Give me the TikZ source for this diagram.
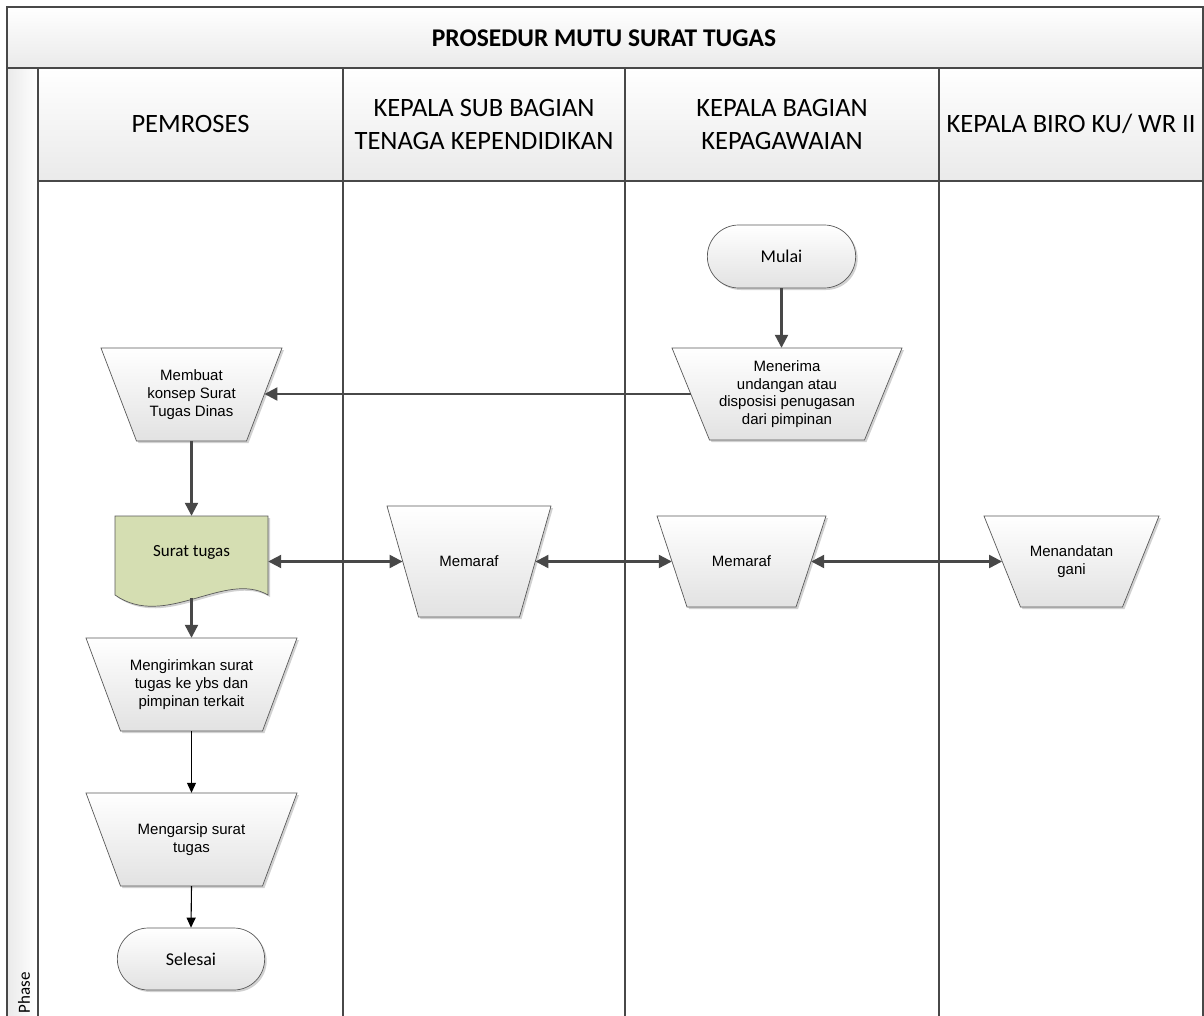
\documentclass[tikz,border=0pt]{standalone}
\usepackage{fontspec}
\setmainfont{Carlito}
\newfontfamily\arialfont{Liberation Sans}
\usetikzlibrary{shapes.misc,arrows.meta,shadows}
\definecolor{lanegray}{RGB}{72,72,72}
\definecolor{headgray}{RGB}{234,234,234}
\definecolor{shapegray}{RGB}{226,226,226}
\definecolor{docgreen}{RGB}{213,222,178}
% manual operation: name, centre, top half width, bottom half width, half height, text
\newcommand{\manop}[6]{%
	\path[shapeline,softshadow,top color=white,bottom color=shapegray,shift={(#2)}]
		(-#3,-#5) -- (#3,-#5) -- (#4,#5) -- (-#4,#5) -- cycle;
	\node[steptext,minimum width={#3+#4},minimum height={2*#5}] (#1) at (#2) {#6};}
\begin{document}
\begin{tikzpicture}[x=1pt,y=-1pt,
	lane/.style={draw=lanegray,line width=1.4pt},
	head/.style={lane,top color=white,bottom color=headgray},
	hdtext/.style={align=center,font=\fontsize{26.5}{33}\selectfont},
	shapeline/.style={draw=black!65,line width=0.7pt},
	softshadow/.style={drop shadow={shadow xshift=2pt,shadow yshift=-2pt,opacity=0.18,fill=black}},
	steptext/.style={align=center,inner sep=0pt,font=\arialfont\fontsize{15}{17.7}\selectfont},
	term/.style={rounded rectangle,shapeline,softshadow,top color=white,bottom color=shapegray,
		font=\fontsize{18}{20}\selectfont},
	flow/.style={draw=lanegray,line width=2.2pt,-{Triangle[length=13pt,width=13pt]}},
	both/.style={flow,{Triangle[length=13pt,width=13pt]}-{Triangle[length=13pt,width=13pt]}},
	thin/.style={draw=black,line width=1.1pt,-{Triangle[length=10pt,width=9pt]}}]
	\useasboundingbox (0,0) rectangle (1204,1016);
	\clip (0,0) rectangle (1204,1016);
	% swimlanes
	\draw[head] (7,7) rectangle (1203,68);
	\draw[lane,left color=headgray,right color=white] (7,68) rectangle (38,1030);
	\foreach \xa/\xb in {38/343,343/625,625/939,939/1203}
		\draw[head] (\xa,68) rectangle (\xb,181);
	\foreach \x in {343,625,939,1203}
		\draw[lane] (\x,181) -- (\x,1030);
	\node[font=\bfseries\fontsize{25.5}{30}\selectfont] (title) at (604,38) {PROSEDUR MUTU SURAT TUGAS};
	\node[hdtext] (pemroses) at (190.5,124) {PEMROSES};
	\node[hdtext] (kasubag) at (484,124) {KEPALA SUB BAGIAN\\TENAGA KEPENDIDIKAN};
	\node[hdtext] (kabag) at (782,124) {KEPALA BAGIAN\\KEPAGAWAIAN};
	\node[hdtext] (kabiro) at (1071,124) {KEPALA BIRO KU/ WR II};
	\node[rotate=90,font=\fontsize{17}{20}\selectfont] (phase) at (24,993) {Phase};
	% steps
	\node[term,minimum width=155pt,minimum height=63pt] (mulai) at (781.5,256.5) {Mulai};
	\manop{terima}{787,394}{115}{77.5}{46}{Menerima\\undangan atau\\disposisi penugasan\\dari pimpinan}
	\manop{buat}{191.5,394.5}{90.5}{55}{46.5}{Membuat\\konsep Surat\\Tugas Dinas}
	\path[shapeline,softshadow,fill=docgreen] (115,516) -- (268,516) -- (268,595) .. controls (225,570) and (165,630) .. (115,595) -- cycle;
	\node[minimum width=153pt,minimum height=72pt,font=\fontsize{17}{20}\selectfont] (surat) at (191.5,552) {Surat tugas};
	\coordinate (suratbawah) at (191.5,598);
	\manop{paraf1}{469,561.5}{82}{50.5}{55.5}{Memaraf}
	\manop{paraf2}{741.5,561.5}{84.5}{54.5}{45.5}{Memaraf}
	\manop{ttd}{1071.5,561.5}{87.5}{51}{45.5}{Menandatan\\gani}
	\manop{kirim}{191.5,684.5}{105.5}{71}{46.5}{Mengirimkan surat\\tugas ke ybs dan\\pimpinan terkait}
	\manop{arsip}{191.5,839.5}{105.5}{71}{46.5}{Mengarsip surat\\tugas}
	\node[term,minimum width=154pt,minimum height=62pt] (selesai) at (191,959) {Selesai};
	% connectors
	\draw[flow] (mulai.south) -- (mulai.south |- terima.north);
	\draw[flow] (terima.west) -- (terima.west -| buat.east);
	\draw[flow] (buat.south) -- (buat.south |- surat.north);
	\draw[both] (surat.east |- paraf1.west) -- (paraf1.west);
	\draw[both] (paraf1.east) -- (paraf2.west);
	\draw[both] (paraf2.east) -- (ttd.west);
	\draw[flow] (suratbawah) -- (suratbawah |- kirim.north);
	\draw[thin] (kirim.south) -- (arsip.north);
	\draw[thin] (arsip.south) -- (selesai.north);
\end{tikzpicture}
\end{document}
